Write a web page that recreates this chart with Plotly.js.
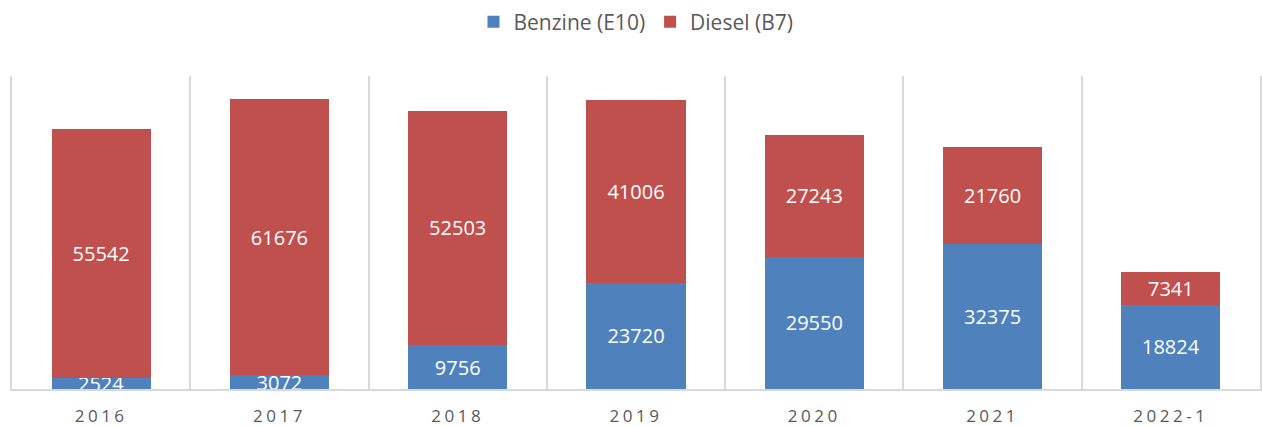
<!DOCTYPE html>
<html>
<head>
<meta charset="utf-8">
<script src="https://cdn.plot.ly/plotly-3.0.1.min.js"></script>
<style>
html,body{margin:0;padding:0;background:#fff;}
#chart{width:1262px;height:426px;}
.xtick text{letter-spacing:3.5px;}
</style>
</head>
<body>
<div id="chart"></div>
<script>
const categories = ["2016", "2017", "2018", "2019", "2020", "2021", "2022-1"];
const benzine = [2524, 3072, 9756, 23720, 29550, 32375, 18824];
const diesel = [55542, 61676, 52503, 41006, 27243, 21760, 7341];
const seriesNames = ["Benzine (E10)", "Diesel (B7)"];

const labelFont = {family: "Open Sans, sans-serif", size: 20, color: "#ffffff"};
const traces = [
  {type: "bar", name: seriesNames[0], x: categories, y: benzine,
   marker: {color: "#4F81BD"}, text: benzine.map(String), textposition: "inside",
   insidetextanchor: "middle", textfont: labelFont, hoverinfo: "none", cliponaxis: true},
  {type: "bar", name: seriesNames[1], x: categories, y: diesel,
   marker: {color: "#C0504D"}, text: diesel.map(String), textposition: "inside",
   insidetextanchor: "middle", textfont: labelFont, hoverinfo: "none", cliponaxis: true}
];

const layout = {
  width: 1262, height: 426,
  margin: {l: 12, r: 2, t: 76, b: 37},
  barmode: "stack",
  bargap: 0.444,
  paper_bgcolor: "#ffffff", plot_bgcolor: "#ffffff",
  uniformtext: {mode: "show", minsize: 20},
  showlegend: true,
  legend: {orientation: "h", x: 0.5, xanchor: "center", y: 1.1725, yanchor: "middle",
           font: {family: "Open Sans, sans-serif", size: 21, color: "#595959"},
           traceorder: "normal"},
  xaxis: {type: "category", tickson: "boundaries", showgrid: true, gridcolor: "#D9D9D9", gridwidth: 2,
          showline: true, linecolor: "#D9D9D9", linewidth: 2, ticks: "", ticklen: 0,
          ticklabelstandoff: 11,
          tickfont: {family: "Open Sans, sans-serif", size: 17, color: "#595959"},
          range: [-0.5, 6.5], fixedrange: true, zeroline: false},
  yaxis: {range: [0, 70000], showgrid: false, showticklabels: false, zeroline: false,
          showline: true, mirror: true, linecolor: "#D9D9D9", linewidth: 2,
          ticks: "", fixedrange: true},
  font: {family: "Open Sans, sans-serif"}
};

Plotly.newPlot("chart", traces, layout, {staticPlot: true, displayModeBar: false});
</script>
</body>
</html>
